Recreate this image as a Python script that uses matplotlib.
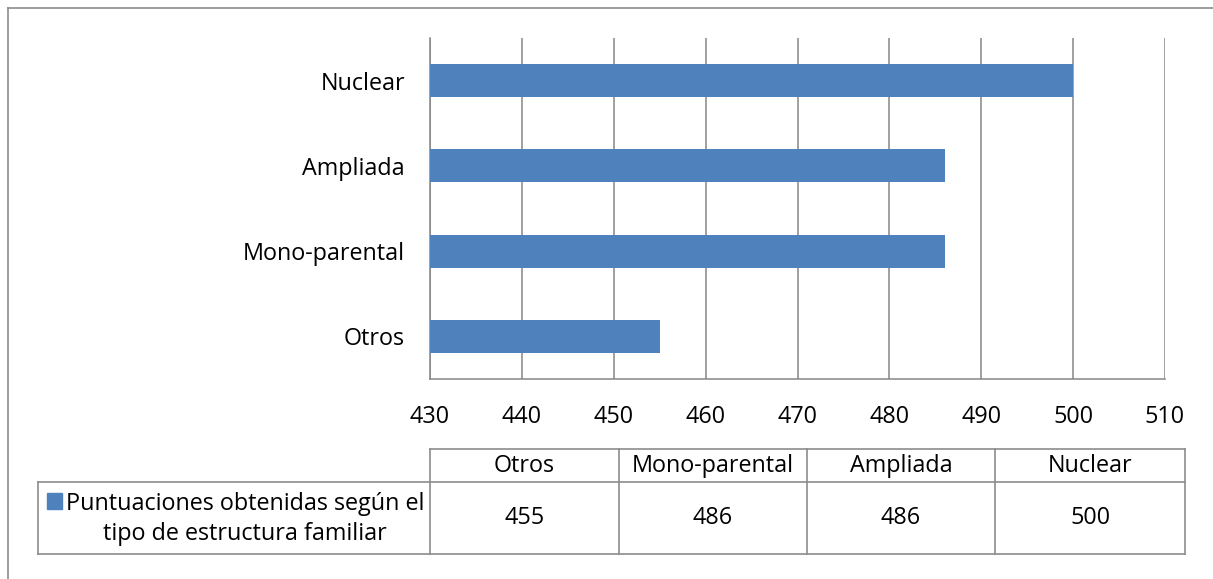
import matplotlib
matplotlib.use("Agg")
import matplotlib.pyplot as plt
from matplotlib.lines import Line2D
from matplotlib.patches import Rectangle

categories = ["Otros", "Mono-parental", "Ampliada", "Nuclear"]
values = [455, 486, 486, 500]
series_name = "Puntuaciones obtenidas según el\ntipo de estructura familiar"
xticks = [430, 440, 450, 460, 470, 480, 490, 500, 510]

W, H = 1213, 579
DPI = 100
BAR = "#4F81BD"
GRID = "#868686"
FONT = "Open Sans"
FS = 16.8

plt.rcParams["font.family"] = [FONT, "DejaVu Sans"]

fig = plt.figure(figsize=(W / DPI, H / DPI), dpi=DPI)

def fx(px):
    return px / W

def fy(py):
    return 1 - py / H

# outer chart border (top and left visible)
fig.add_artist(Line2D([fx(8), fx(W + 5)], [fy(8), fy(8)], color="#8c8c8c", lw=1.2))
fig.add_artist(Line2D([fx(8), fx(8)], [fy(8), fy(H + 5)], color="#8c8c8c", lw=1.2))

# main bar chart
L, R, T, B = 430, 1165, 38, 379
ax = fig.add_axes([fx(L), fy(B), fx(R - L), (B - T) / H])
ypos = list(range(len(categories)))
ax.barh(ypos, values, height=0.39, color=BAR, left=0, zorder=3)
ax.set_xlim(xticks[0], xticks[-1])
ax.set_ylim(-0.5, len(categories) - 0.5)
ax.set_xticks(xticks)
ax.set_xticklabels([str(t) for t in xticks], fontsize=FS)
ax.set_yticks(ypos)
ax.set_yticklabels(categories, fontsize=FS)
ax.tick_params(axis="x", length=0, pad=18.5)
ax.tick_params(axis="y", length=0, pad=18)
ax.xaxis.grid(True, color=GRID, lw=1.1, zorder=0)
for s in ["top", "right"]:
    ax.spines[s].set_visible(False)
for s in ["left", "bottom"]:
    ax.spines[s].set_color(GRID)
    ax.spines[s].set_linewidth(1.1)

# data table
TL = 38
col_x = [430, 619, 807, 995, 1185]
ry0, ry1, ry2 = 449, 482, 554
tax = fig.add_axes([0, 0, 1, 1])
tax.set_xlim(0, W)
tax.set_ylim(H, 0)
tax.axis("off")
lc = "#8c8c8c"
lw = 1.2
tax.plot([col_x[0], col_x[-1]], [ry0, ry0], color=lc, lw=lw)
tax.plot([TL, col_x[-1]], [ry1, ry1], color=lc, lw=lw)
tax.plot([TL, col_x[-1]], [ry2, ry2], color=lc, lw=lw)
tax.plot([TL, TL], [ry1, ry2], color=lc, lw=lw)
for x in col_x:
    tax.plot([x, x], [ry0, ry2], color=lc, lw=lw)
for i, (c, v) in enumerate(zip(categories, values)):
    cx = (col_x[i] + col_x[i + 1]) / 2
    tax.text(cx, (ry0 + ry1) / 2, c, ha="center", va="center", fontsize=FS)
    tax.text(cx, (ry1 + ry2) / 2, str(v), ha="center", va="center", fontsize=FS)
tax.add_patch(Rectangle((47, 493), 15, 16, color=BAR))
tax.text(245, (ry1 + ry2) / 2 + 1, series_name, ha="center", va="center",
         multialignment="center", fontsize=FS, linespacing=1.3)

fig.savefig("out.png", dpi=DPI)
